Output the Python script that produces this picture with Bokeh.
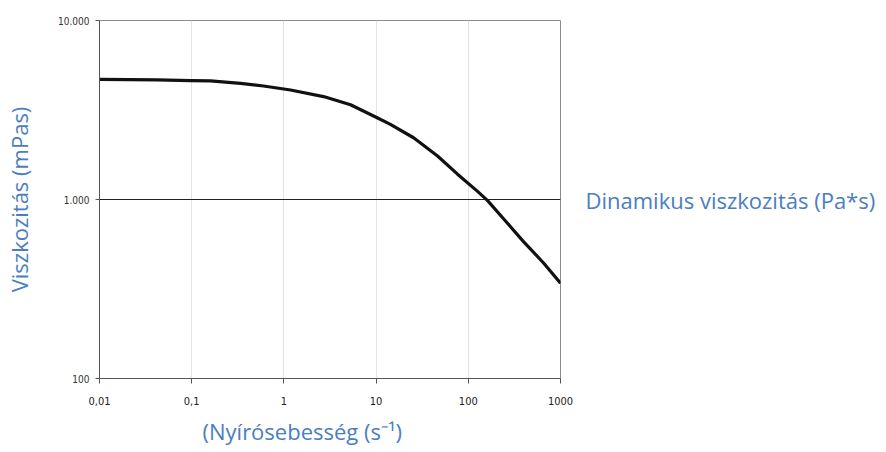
from bokeh.plotting import figure
from bokeh.models import FixedTicker, LogAxis, Title
from bokeh.embed import file_html
from bokeh.resources import INLINE

# Data
shear_rate = [0.01, 0.0423, 0.097, 0.160, 0.338, 0.601, 1.18, 2.69, 5.28, 10.4,
              14.3, 25.5, 46.4, 76.4, 126, 162, 241, 397, 655, 1000]
viscosity = [4694, 4656, 4617, 4596, 4459, 4305, 4092, 3758, 3381, 2852,
             2630, 2213, 1751, 1385, 1110, 985, 780, 582, 442, 341]

x_ticks = [0.01, 0.1, 1, 10, 100, 1000]
x_tick_labels = ["0,01", "0,1", "1", "10", "100", "1000"]
y_ticks = [100, 1000, 10000]
y_tick_labels = ["100", "1.000", "10.000"]

x_title = "(Nyírósebesség (s⁻¹)"
y_title = "Viszkozitás (mPas)"
right_title = "Dinamikus viszkozitás (Pa*s)"

BLUE = "#4a7ebf"
TICK_FONT = "DejaVu Sans Condensed, Liberation Sans Narrow, DejaVu Sans"
TITLE_SIZE = "22px"

p = figure(width=880, height=452, x_axis_type="log", y_axis_type="log",
           x_range=(0.01, 1000), y_range=(100, 10000),
           output_backend="svg", toolbar_location=None,
           min_border_left=99, min_border_right=320,
           min_border_top=20, min_border_bottom=71)

p.background_fill_color = "white"
p.border_fill_color = "white"
p.outline_line_color = "#8a8a8a"
p.outline_line_width = 1

# x axis
p.xaxis.ticker = FixedTicker(ticks=x_ticks)
p.xaxis.major_label_overrides = {t: l for t, l in zip(x_ticks, x_tick_labels)}
p.xaxis.minor_tick_line_color = None
p.xaxis.major_tick_in = 0
p.xaxis.major_tick_out = 5
p.xaxis.axis_line_color = "#555555"
p.xaxis.major_tick_line_color = "#555555"
p.xaxis.major_label_text_font = TICK_FONT
p.xaxis.major_label_text_font_size = "11px"
p.xaxis.major_label_text_color = "#222222"
p.xaxis.major_label_standoff = 13

# x axis title, left-shifted as in the reference
p.add_layout(Title(text=x_title, align="left", offset=103, standoff=13,
                   text_font="Open Sans", text_font_style="normal",
                   text_font_size=TITLE_SIZE, text_color=BLUE), "below")

# y axis
p.yaxis.ticker = FixedTicker(ticks=y_ticks)
p.yaxis.major_label_overrides = {t: l for t, l in zip(y_ticks, y_tick_labels)}
p.yaxis.minor_tick_line_color = None
p.yaxis.major_tick_in = 0
p.yaxis.major_tick_out = 4
p.yaxis.axis_line_color = "#555555"
p.yaxis.major_tick_line_color = "#555555"
p.yaxis.major_label_text_font = TICK_FONT
p.yaxis.major_label_text_font_size = "10px"
p.yaxis.major_label_text_color = "#333333"
p.yaxis.major_label_standoff = 6
p.yaxis.axis_label = y_title
p.yaxis.axis_label_text_font = "Open Sans"
p.yaxis.axis_label_text_font_style = "normal"
p.yaxis.axis_label_text_font_size = TITLE_SIZE
p.yaxis.axis_label_text_color = BLUE
p.yaxis.axis_label_standoff = 21

# right-side label, drawn as the single tick label of a right axis at 1.000
right_axis = LogAxis(ticker=FixedTicker(ticks=[1000]),
                     major_label_overrides={1000: right_title},
                     axis_line_color=None, major_tick_line_color=None,
                     minor_tick_line_color=None, major_tick_in=0, major_tick_out=0,
                     major_label_standoff=25,
                     major_label_text_font="Open Sans",
                     major_label_text_font_size=TITLE_SIZE,
                     major_label_text_color=BLUE)
p.add_layout(right_axis, "right")

# grids
p.xgrid.ticker = FixedTicker(ticks=x_ticks)
p.xgrid.grid_line_color = "#e3e3e3"
p.xgrid.grid_line_width = 1
p.ygrid.ticker = FixedTicker(ticks=[1000])
p.ygrid.grid_line_color = "#222222"
p.ygrid.grid_line_width = 1

# curve
p.line(shear_rate, viscosity, line_color="#111111", line_width=3.2, line_join="round")

open("out.html", "w").write(file_html(p, INLINE))
